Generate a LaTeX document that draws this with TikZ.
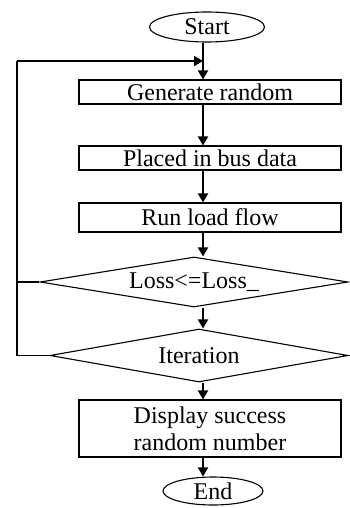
\documentclass[tikz,border=0pt]{standalone}
\usepackage{fontspec}
\setmainfont{Liberation Serif}
\usetikzlibrary{shapes.geometric,arrows.meta}
\begin{document}
\begin{tikzpicture}[x=1pt,y=-1pt,
  every node/.style={font=\fontsize{24}{27}\selectfont, inner sep=0pt},
  procbox/.style={draw, line width=1.1pt, minimum width=262pt},
  term/.style={draw, ellipse, line width=1.1pt},
  decide/.style={draw, diamond, shape aspect=8, line width=1.1pt},
  arr/.style={line width=1.8pt, -{Triangle[length=9pt,width=10pt]}},
  link/.style={line width=1.8pt}]
\useasboundingbox (0,0) rectangle (349,508);
\node[term, minimum width=115pt, minimum height=30pt] (start) at (207,27) {Start};
\node[procbox, minimum height=24pt] (gen) at (210,92) {Generate random};
\node[procbox, minimum height=24pt] (placed) at (210,158) {Placed in bus data};
\node[procbox, minimum height=29pt] (run) at (210,217.5) {Run load flow};
\node[decide, minimum width=308pt, minimum height=50pt] (loss) at (194,282) {Loss<=Loss\_};
\node[decide, minimum width=298pt, minimum height=53pt] (iter) at (199,355.5) {Iteration};
\node[procbox, minimum height=57pt, align=center] (disp) at (210,428.5) {Display success\\random number};
\node[term, minimum width=100pt, minimum height=28pt] (end) at (213,491) {End};
\coordinate (ax) at (203,0);
\coordinate (ltop) at (17,61);
\coordinate (lend) at (203,61);
\draw[arr] (start.south -| ax) -- (gen.north -| ax);
\draw[arr] (gen.south -| ax) -- (placed.north -| ax);
\draw[arr] (placed.south -| ax) -- (run.north -| ax);
\draw[arr] (run.south -| ax) -- (loss.north -| ax);
\draw[arr] (loss.south -| ax) -- (iter.north -| ax);
\draw[arr] (iter.south -| ax) -- (disp.north -| ax);
\draw[arr] (disp.south -| ax) -- (end.north -| ax);
\draw[link] (iter.west) -| (ltop);
\draw[arr] (ltop) -- (lend);
\draw[link] (loss.west) -- (loss.west -| ltop);
\end{tikzpicture}
\end{document}
